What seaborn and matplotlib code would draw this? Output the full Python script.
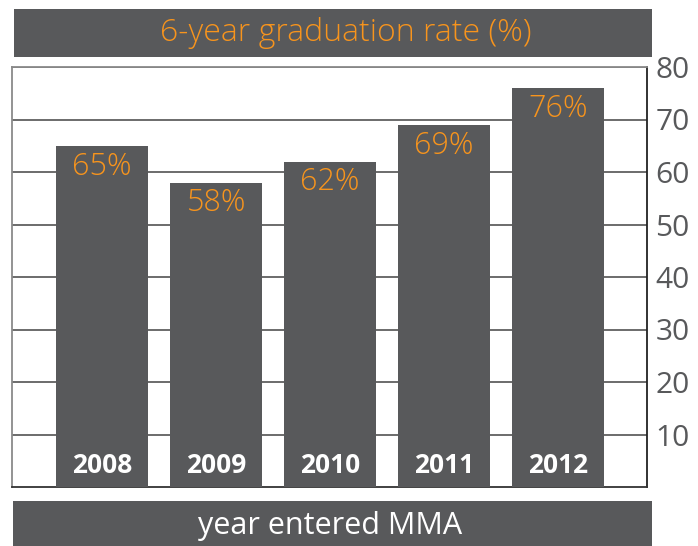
import matplotlib
matplotlib.use("Agg")
import matplotlib.pyplot as plt
from matplotlib.patches import Rectangle
import seaborn as sns
import pandas as pd

years = ["2008", "2009", "2010", "2011", "2012"]
rates = [65, 58, 62, 69, 76]
yticks = [10, 20, 30, 40, 50, 60, 70, 80]
title = "6-year graduation rate (%)"
xlabel = "year entered MMA"

BAR = "#58595B"
ORANGE = "#F7941D"

sns.set_theme(style="white")
plt.rcParams["font.family"] = ["Open Sans", "DejaVu Sans"]

fig = plt.figure(figsize=(6.98, 5.46), dpi=100)
ax = fig.add_axes([12/698, 1 - 487/546, (647-12)/698, (487-67)/546])

df = pd.DataFrame({"year": years, "rate": rates})
sns.barplot(data=df, x="year", y="rate", color=BAR, saturation=1, width=0.8, ax=ax,
            zorder=3, linewidth=0, edgecolor="none")

ax.set_xlim(-0.79, 4.78)
ax.set_ylim(0, 80)
ax.set_axisbelow(True)
ax.yaxis.tick_right()
ax.set_yticks(yticks)
ax.set_yticklabels([str(t) for t in yticks], fontsize=21.5, color="#58595B")
ax.tick_params(axis="y", length=0, pad=6)
ax.set_xticks([])
ax.set_xlabel("")
ax.set_ylabel("")
ax.grid(axis="y", color="#444444", linewidth=1.1)
ax.grid(axis="x", visible=False)

for side, col in [("left", "#8a8a8a"), ("top", "#8a8a8a"), ("right", "#222222"), ("bottom", "#333333")]:
    ax.spines[side].set_visible(True)
    ax.spines[side].set_color(col)
    ax.spines[side].set_linewidth(1.3)

for i, (y, r) in enumerate(zip(years, rates)):
    ax.annotate(f"{r}%", xy=(i, r), xytext=(0, -15), textcoords="offset points",
                ha="center", va="center", fontsize=22, color=ORANGE, fontweight="light", zorder=5)
    ax.annotate(y, xy=(i, 0), xytext=(0, 15.5), textcoords="offset points",
                ha="center", va="center", fontsize=19, color="white", fontweight="bold", zorder=5)

fig.patches.append(Rectangle((14/698, 1 - 57/546), (652-14)/698, 48/546,
                             transform=fig.transFigure, facecolor=BAR, edgecolor="none", zorder=0))
fig.patches.append(Rectangle((13/698, 0), (652-13)/698, 45/546,
                             transform=fig.transFigure, facecolor=BAR, edgecolor="none", zorder=0))
fig.text(346/698, 1 - 33/546, title, ha="center", va="center", fontsize=23,
         color=ORANGE, fontweight="light")
fig.text(330/698, 1 - 526/546, xlabel, ha="center", va="center", fontsize=22,
         color="white")

fig.savefig("out.png", dpi=100)
